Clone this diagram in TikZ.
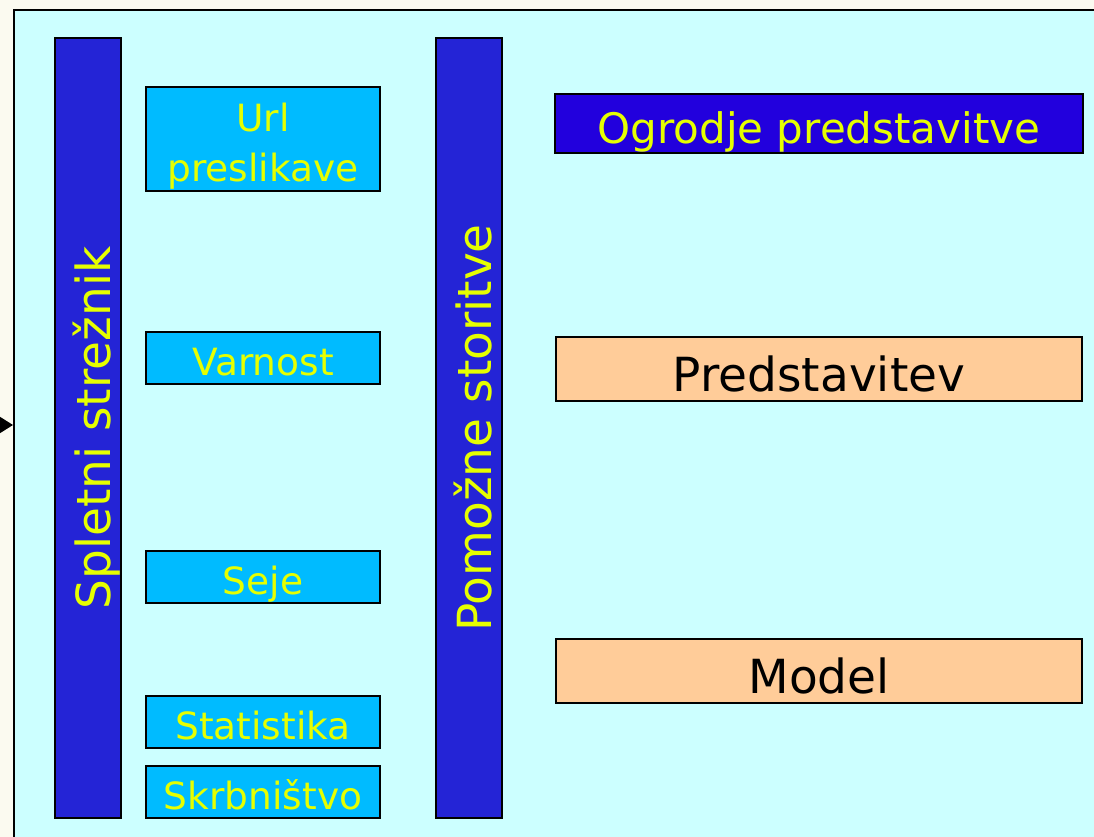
\documentclass[tikz,border=0pt]{standalone}
\usepackage{fontspec}
\setmainfont{DejaVu Sans}
\usetikzlibrary{arrows.meta}
\usetikzlibrary{positioning}
\definecolor{cream}{RGB}{251,250,240}
\definecolor{paleCyan}{RGB}{204,255,255}
\definecolor{barBlue}{RGB}{36,36,214}
\definecolor{frameBlue}{RGB}{34,0,221}
\definecolor{skyBlue}{RGB}{0,187,255}
\definecolor{peach}{RGB}{255,204,153}
\definecolor{lemon}{RGB}{230,255,0}
\tikzset{
    box/.style = {rectangle, draw=black, line width=2pt, inner sep=0pt, align=center},
    bar_node/.style = {box, fill=barBlue, text=lemon, rotate=90, minimum width=780pt, minimum height=66pt, text height=45pt, text depth=0pt, font=\fontsize{47}{56}\selectfont},
    item_node/.style = {box, fill=skyBlue, text=lemon, minimum width=234pt, minimum height=52pt, text height=35pt, text depth=0pt, font=\fontsize{37.5}{50}\selectfont},
    frame_node/.style = {box, fill=frameBlue, text=lemon, minimum width=528pt, minimum height=59pt, text height=40pt, text depth=0pt, font=\fontsize{42}{50}\selectfont},
    tier_node/.style = {box, fill=peach, text=black, minimum width=526pt, minimum height=64pt, text height=44pt, text depth=0pt, font=\fontsize{47}{56}\selectfont}
}
\begin{document}
\begin{tikzpicture}[x=1pt, y=-1pt]
    \useasboundingbox (0,0) rectangle (1094,837);
    \fill[cream] (0,0) rectangle (1094,837);
    \node [rectangle, draw=black, line width=2pt, fill=paleCyan, anchor=north west,
        minimum width=1100pt, minimum height=840pt] (canvas) at (13,9) {};
    % incoming arrow
    \coordinate (in_tail) at (-30,425);
    \draw [-{Triangle[length=13pt,width=16pt]}, line width=1.5pt] (in_tail) -- (in_tail -| canvas.west);
    % left column
    \node [bar_node] (server) at (88,428) {Spletni strežnik};
    \node [item_node, minimum height=104pt, text height=86pt] (url) at (263,139) {Url\\preslikave};
    \node [item_node] (security) at (263,358) {Varnost};
    \node [item_node] (sessions) at (263,577) {Seje};
    \node [item_node] (stats) at (263,722) {Statistika};
    \node [item_node, below=16pt of stats] (admin) {Skrbništvo};
    \node [bar_node] (services) at (469,428) {Pomožne storitve};
    % right column
    \node [frame_node] (framework) at (819,123.5) {Ogrodje predstavitve};
    \node [tier_node] (view) at (819,369) {Predstavitev};
    \node [tier_node] (model) at (819,671) {Model};
\end{tikzpicture}
\end{document}
